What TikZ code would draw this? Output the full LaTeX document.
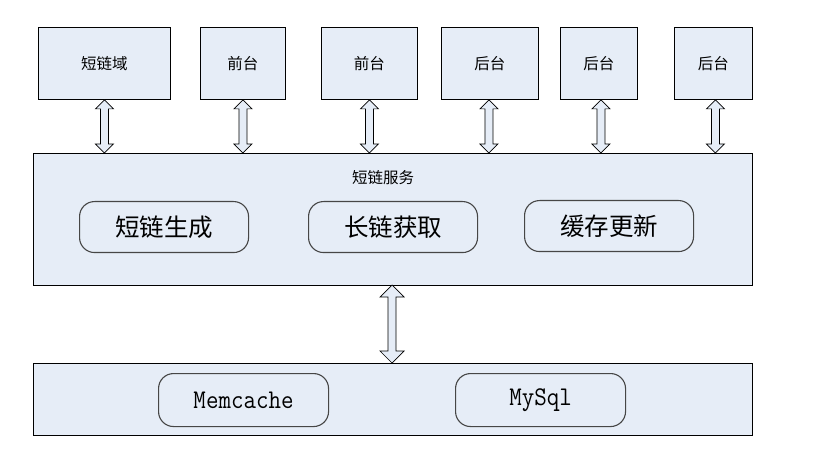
\documentclass[tikz,border=0pt]{standalone}
\usepackage{fontspec}
\newfontfamily\cjk{Noto Sans CJK SC}
\usetikzlibrary{calc}
\definecolor{boxfill}{RGB}{230,237,247}
\definecolor{rborder}{RGB}{70,70,70}
\tikzset{
  sqbox/.style={draw=black, line width=0.9pt, fill=boxfill, anchor=north west, inner sep=0pt},
  rbox/.style={draw=rborder, line width=1.1pt, rounded corners=15pt, anchor=north west, inner sep=0pt, minimum width=169pt, minimum height=51pt},
  blockarrow/.style={draw=black, line width=0.7pt, fill=boxfill, line join=miter},
  toplabel/.style={font=\cjk\fontsize{15.5}{15.5}\selectfont},
  innerlabel/.style={font=\cjk\fontsize{24.5}{24.5}\selectfont},
  monolabel/.style={font=\fontsize{27}{27}\selectfont\ttfamily},
}
% double block arrow from #1 (top) to #2 (bottom); #3 half head width (= head length), #4 half shaft width
\newcommand{\dblarrow}[4]{%
  \path[blockarrow] let \p1=#1, \p2=#2 in
    (\x1,\y1) -- (\x1+#3,\y1-#3) -- (\x1+#4,\y1-#3) -- (\x1+#4,\y2+#3) -- (\x1+#3,\y2+#3)
    -- (\x1,\y2) -- (\x1-#3,\y2+#3) -- (\x1-#4,\y2+#3) -- (\x1-#4,\y1-#3) -- (\x1-#3,\y1-#3) -- cycle;}
\begin{document}
\begin{tikzpicture}[x=1pt,y=-1pt]
\useasboundingbox[fill=white] (0,0) rectangle (832,462);
% top boxes
\node[sqbox, minimum width=132pt, minimum height=72pt] (b1) at (38,27) {};
\node[toplabel] at (b1.center) {短链域};
\node[sqbox, minimum width=85pt, minimum height=72pt] (b2) at (200,27) {};
\node[toplabel] at (b2.center) {前台};
\node[sqbox, minimum width=96pt, minimum height=72pt] (b3) at (321,27) {};
\node[toplabel] at (b3.center) {前台};
\node[sqbox, minimum width=97pt, minimum height=72pt] (b4) at (441,27) {};
\node[toplabel] at (b4.center) {后台};
\node[sqbox, minimum width=77pt, minimum height=72pt] (b5) at (560,27) {};
\node[toplabel] at (b5.center) {后台};
\node[sqbox, minimum width=78pt, minimum height=72pt] (b6) at (674,27) {};
\node[toplabel] at (b6.center) {后台};
% service layer
\node[sqbox, minimum width=719pt, minimum height=132pt] (svc) at (33,153) {};
\node[toplabel] (svclabel) at (383,178) {短链服务};
\node[rbox] (r1) at (79,201) {};
\node[innerlabel] at (r1.center) {短链生成};
\node[rbox] (r2) at (308,201) {};
\node[innerlabel] at (r2.center) {长链获取};
\node[rbox] (r3) at (524,200) {};
\node[innerlabel] at (r3.center) {缓存更新};
% storage layer
\node[sqbox, minimum width=719pt, minimum height=72pt] (db) at (33,363) {};
\node[rbox, minimum width=170pt, minimum height=53pt] (mem) at (158,373) {};
\node at (mem.center) {\scalebox{0.9}[1]{\fontsize{27}{27}\selectfont\ttfamily Memcache}};
\node[rbox, minimum width=170pt, minimum height=53pt] (sql) at (455,373) {};
\node at (sql.center) {\scalebox{0.9}[1]{\fontsize{27}{27}\selectfont\ttfamily MySql}};
% arrows
\dblarrow{(b1.south)}{(b1.south |- svc.north)}{9pt}{4pt}
\dblarrow{(b2.south)}{(b2.south |- svc.north)}{9pt}{4pt}
\dblarrow{(b3.south)}{(b3.south |- svc.north)}{9pt}{4pt}
\dblarrow{([xshift=-1pt]b4.south)}{([xshift=-1pt]b4.south |- svc.north)}{9pt}{4pt}
\dblarrow{([xshift=2pt]b5.south)}{([xshift=2pt]b5.south |- svc.north)}{9pt}{4pt}
\dblarrow{([xshift=2pt]b6.south)}{([xshift=2pt]b6.south |- svc.north)}{9pt}{4pt}
\coordinate (mid) at (392,285);
\dblarrow{(mid)}{(mid |- db.north)}{12pt}{4pt}
\end{tikzpicture}
\end{document}
